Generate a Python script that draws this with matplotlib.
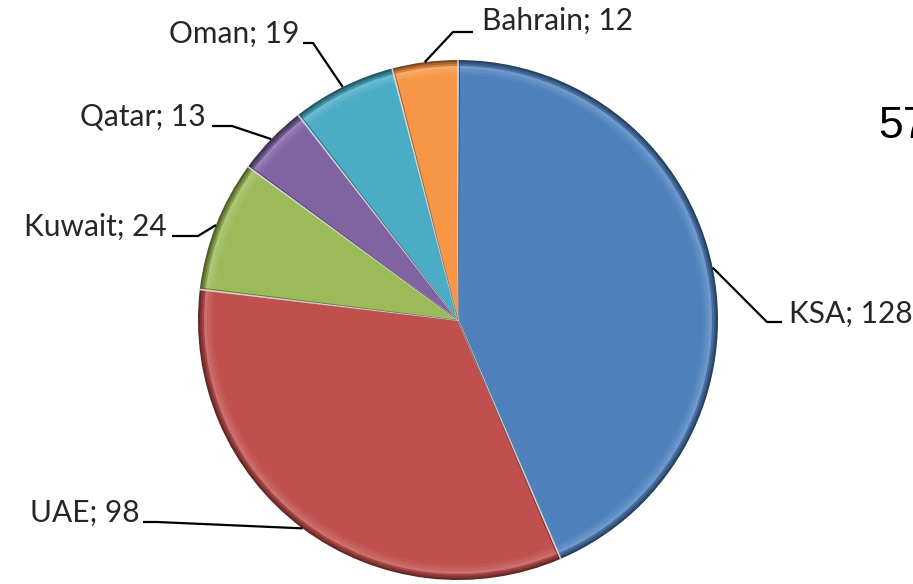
import matplotlib.pyplot as plt
import matplotlib.colors as mcolors
import numpy as np

countries = ['KSA', 'UAE', 'Kuwait', 'Qatar', 'Oman', 'Bahrain']
values = [128, 98, 24, 13, 19, 12]
colors = ['#4F81BD', '#C0504D', '#9BBB59', '#8064A2', '#4BACC6', '#F79646']

# canvas in pixels, pie centre and radius
W, H = 913, 584
cx, cy, R = 458, H - 320, 260

# leader line elbow / end and text anchor (pixel coords, y from top)
label_layout = {
    'KSA':     ((767, 322), (782, 322), 789, 323, 'left'),
    'UAE':     ((157, 522), (143, 522), 140, 522, 'right'),
    'Kuwait':  ((198, 236), (172, 236), 167, 236, 'right'),
    'Qatar':   ((232, 126), (212, 126), 206, 125, 'right'),
    'Oman':    ((313, 43), (303, 43), 299, 43, 'right'),
    'Bahrain': ((453, 32), (473, 32), 482, 30, 'left'),
}


def shade(c, f):
    r, g, b = mcolors.to_rgb(c)
    if f <= 1:
        return (r * f, g * f, b * f)
    t = f - 1
    return (r + (1 - r) * t, g + (1 - g) * t, b + (1 - b) * t)


def main():
    fig = plt.figure(figsize=(W / 100, H / 100), dpi=100)
    ax = fig.add_axes([0, 0, 1, 1])

    # bevel look: stacked pies, dark rim -> light band -> base colour
    layers = [(R, 0.5), (R - 2, 0.68), (R - 4, 0.85), (R - 6, 1.18),
              (R - 9, 1.1), (R - 12, 1.04), (R - 15, 1.0)]
    for rad, f in layers:
        ax.pie(values, colors=[shade(c, f) for c in colors], startangle=90,
               counterclock=False, center=(cx, cy), radius=rad,
               wedgeprops=dict(edgecolor='none', linewidth=0))

    # slice separators
    total = float(sum(values))
    bounds = 90.0 - 360.0 * np.concatenate([[0], np.cumsum(values)]) / total
    for i, a in enumerate(bounds[:-1]):
        t = np.deg2rad(a)
        ax.plot([cx, cx + R * np.cos(t)], [cy, cy + R * np.sin(t)],
                color='#d9d9d9', lw=1.2, alpha=0.9, zorder=3)
        ax.plot([cx, cx + (R - 1) * np.cos(t - 0.006)],
                [cy, cy + (R - 1) * np.sin(t - 0.006)],
                color=shade(colors[i], 0.45), lw=0.6, alpha=0.7, zorder=3)

    ax.set_xlim(0, W)
    ax.set_ylim(0, H)
    ax.set_aspect('equal')
    ax.axis('off')

    for i, (name, v) in enumerate(zip(countries, values)):
        mid = np.deg2rad((bounds[i] + bounds[i + 1]) / 2)
        px, py = cx + R * np.cos(mid), cy + R * np.sin(mid)
        (ex, ey), (tx, ty), lx, by, ha = label_layout[name]
        ax.plot([px, ex, tx], [py, H - ey, H - ty], color='black', lw=1.6,
                solid_capstyle='butt', zorder=5)
        ax.text(lx, H - by, '%s; %d' % (name, v), ha=ha, va='baseline',
                fontsize=21.5, family=['Lato', 'DejaVu Sans'], color='#262626')

    ax.text(878, H - 138, '57', ha='left', va='baseline', fontsize=32,
            family=['Liberation Sans', 'DejaVu Sans'], color='black')

    fig.savefig('out.png', dpi=100)


if __name__ == "__main__":
    main()
